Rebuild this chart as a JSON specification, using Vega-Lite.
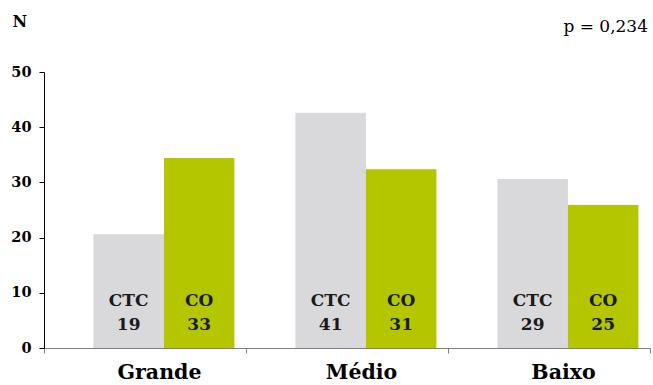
{
  "$schema": "https://vega.github.io/schema/vega-lite/v6.json",
  "width": 606,
  "height": 276,
  "autosize": {"type": "none"},
  "padding": {"left": 44, "top": 72, "right": 3, "bottom": 37},
  "background": "white",
  "title": {
    "text": "p = 0,234",
    "anchor": "end",
    "frame": "group",
    "font": "DejaVu Serif",
    "fontSize": 17,
    "fontWeight": "normal",
    "color": "#000000",
    "baseline": "alphabetic",
    "offset": -36,
    "dx": -2
  },
  "data": {
    "values": [
      {"grupo": "Grande", "tipo": "CTC", "altura": 20.6, "n": 19},
      {"grupo": "Grande", "tipo": "CO", "altura": 34.4, "n": 33},
      {"grupo": "Médio", "tipo": "CTC", "altura": 42.6, "n": 41},
      {"grupo": "Médio", "tipo": "CO", "altura": 32.4, "n": 31},
      {"grupo": "Baixo", "tipo": "CTC", "altura": 30.6, "n": 29},
      {"grupo": "Baixo", "tipo": "CO", "altura": 25.9, "n": 25}
    ]
  },
  "transform": [{"calculate": "datum.tipo + '\\n' + datum.n", "as": "rotulo"}],
  "encoding": {
    "x": {
      "field": "grupo",
      "type": "nominal",
      "sort": ["Grande", "Médio", "Baixo"],
      "scale": {"paddingInner": 0, "paddingOuter": 0},
      "axis": {
        "title": null,
        "tickBand": "extent",
        "labelOffset": 14,
        "labelAngle": 0,
        "labelFont": "DejaVu Serif",
        "labelFontSize": 20.5,
        "labelFontWeight": "bold",
        "labelColor": "#000000",
        "labelPadding": 9,
        "domainColor": "#808080",
        "tickColor": "#808080",
        "tickSize": 5
      }
    },
    "xOffset": {
      "field": "tipo",
      "type": "nominal",
      "sort": ["CTC", "CO"],
      "scale": {"paddingInner": 0, "paddingOuter": 0.4326, "align": 0.81}
    }
  },
  "layer": [
    {
      "mark": {"type": "bar"},
      "encoding": {
        "y": {
          "field": "altura",
          "type": "quantitative",
          "scale": {"domain": [0, 50], "nice": false},
          "axis": {
            "values": [0, 10, 20, 30, 40, 50],
            "grid": false,
            "title": "N",
            "titleAngle": 0,
            "titleFont": "DejaVu Serif",
            "titleFontSize": 16,
            "titleFontWeight": "bold",
            "titleColor": "#000000",
            "titleAlign": "left",
            "titleBaseline": "alphabetic",
            "titleX": -32,
            "titleY": -46,
            "labelFont": "DejaVu Serif",
            "labelFontSize": 14.5,
            "labelFontWeight": "bold",
            "labelColor": "#000000",
            "labelPadding": 8,
            "domainColor": "#000000",
            "tickColor": "#000000",
            "tickSize": 5
          }
        },
        "color": {
          "field": "tipo",
          "type": "nominal",
          "scale": {"domain": ["CTC", "CO"], "range": ["#d9d9db", "#b3c600"]},
          "legend": null
        }
      }
    },
    {
      "mark": {
        "type": "text",
        "font": "DejaVu Serif",
        "fontSize": 17,
        "fontWeight": "bold",
        "color": "#1a1a1a",
        "baseline": "alphabetic",
        "align": "center",
        "lineBreak": "\n",
        "lineHeight": 24
      },
      "encoding": {
        "y": {"datum": 7.6},
        "text": {"field": "rotulo"}
      }
    }
  ],
  "config": {"view": {"stroke": null}}
}
